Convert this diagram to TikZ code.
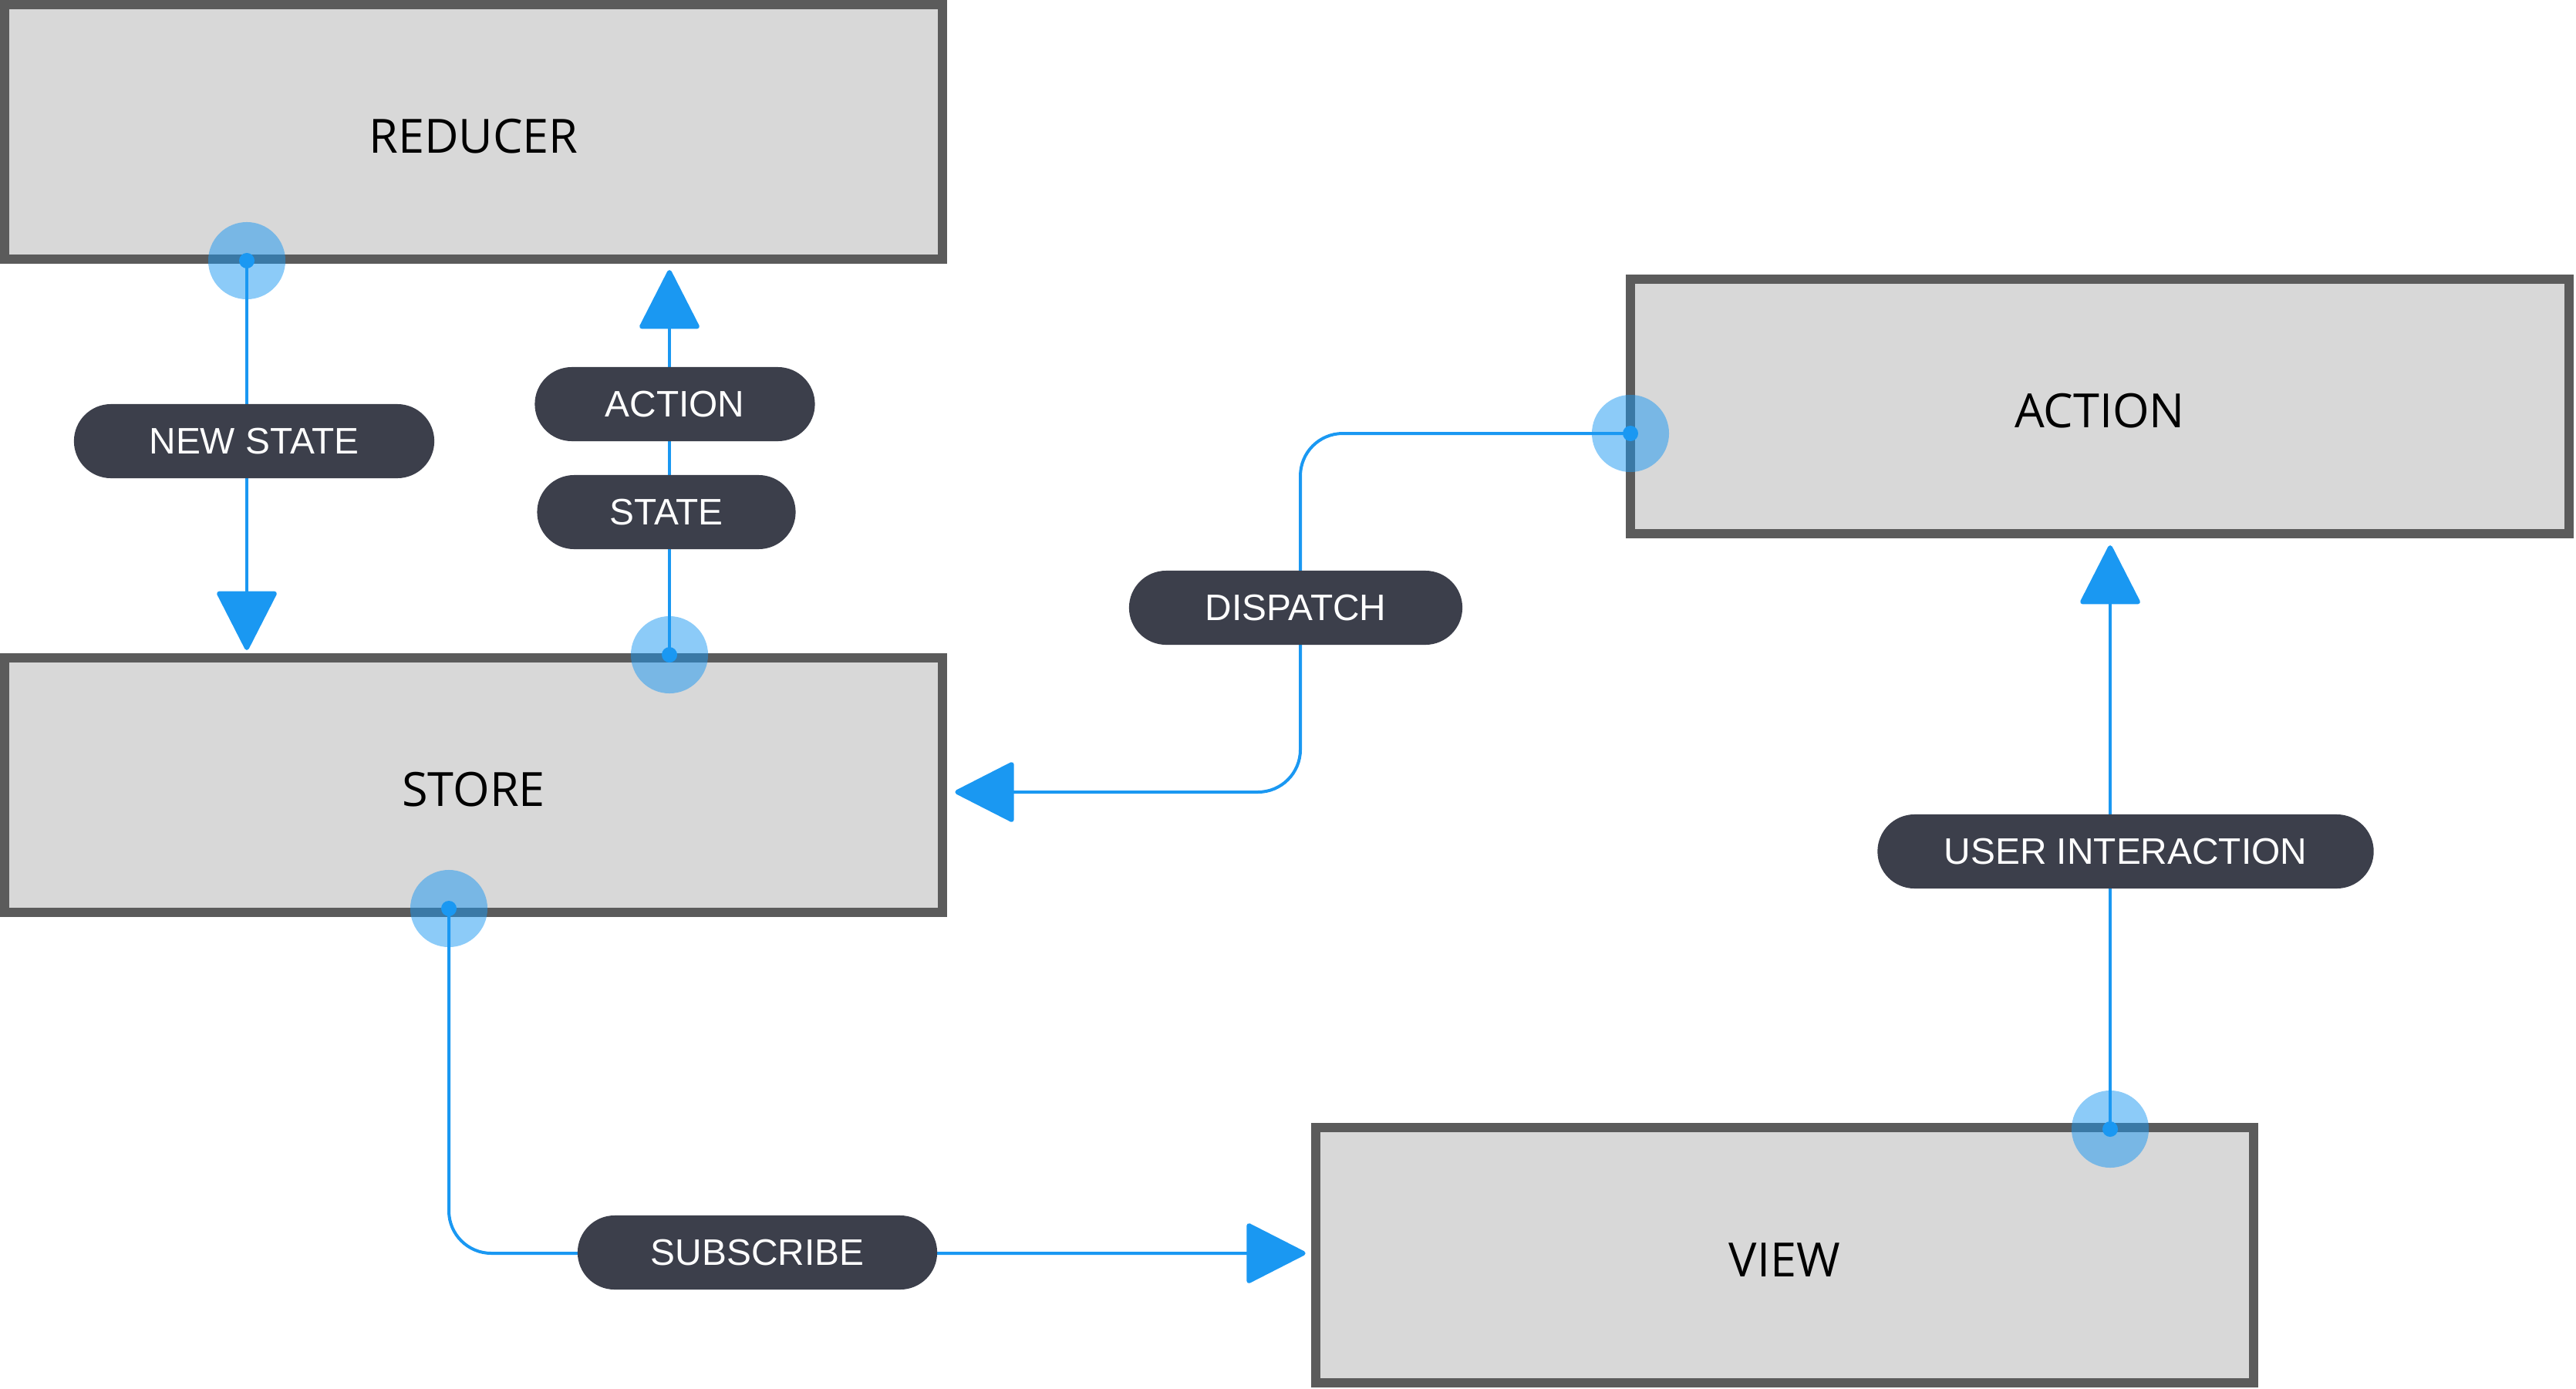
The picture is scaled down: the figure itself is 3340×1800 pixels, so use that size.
\documentclass[tikz,border=0pt]{standalone}
\usepackage{fontspec}
\setmainfont{Liberation Sans}
\newfontfamily\boxfont{Open Sans}
\usetikzlibrary{arrows.meta}
\definecolor{flowblue}{RGB}{26,152,242}
\definecolor{pilldark}{RGB}{60,63,75}
\definecolor{boxfill}{RGB}{216,216,216}
\definecolor{boxline}{RGB}{91,91,91}
\begin{document}
\begin{tikzpicture}[x=0.01cm,y=-0.01cm,
  bigbox/.style={draw=boxline, fill=boxfill, line width=0.12cm, minimum width=12.16cm, minimum height=3.30cm, inner sep=0pt},
  boxlabel/.style={font=\boxfont\fontsize{17.4pt}{20pt}\selectfont, text=black, inner sep=0pt},
  pill/.style={fill=pilldark, rounded corners=0.48cm, minimum height=0.96cm, inner sep=0pt, text=white, font=\fontsize{13.6pt}{16pt}\selectfont},
  conn/.style={draw=flowblue, line width=0.04cm, -{Triangle[length=0.80cm,width=0.80cm,round,line width=0.06cm]}},
  halo/.style={fill=flowblue, fill opacity=0.5},
  dotpt/.style={fill=flowblue}
]
\useasboundingbox (0,0) rectangle (3340,1800);

% boxes
\node[bigbox] (reducer) at (614,171) {};
\node[bigbox] (store) at (614,1018) {};
\node[bigbox] (action) at (2722.5,527) {};
\node[bigbox] (view) at (2314,1627.5) {};
\node[boxlabel] (reducerT) at ([yshift=-0.06cm]reducer.center) {REDUCER};
\node[boxlabel] (storeT) at ([yshift=-0.06cm]store.center) {STORE};
\node[boxlabel] (actionT) at ([yshift=-0.06cm]action.center) {ACTION};
\node[boxlabel] (viewT) at ([yshift=-0.06cm]view.center) {VIEW};

% connection points
\coordinate (h1) at (320,338);
\coordinate (h2) at (868,849);
\coordinate (h3) at (2114,562);
\coordinate (h4) at (582,1178);
\coordinate (h5) at (2736,1464);
\coordinate (d1) at (1686,562);
\coordinate (d2) at (1686,1027);
\coordinate (s1) at (582,1625);

% connectors
\draw[conn, shorten >=0.04cm] (h1) -- (h1 |- store.north);
\draw[conn, shorten >=0.08cm] (h2) -- (h2 |- reducer.south);
\draw[conn, shorten >=0.10cm, rounded corners=0.55cm] (h3) -- (d1) -- (d2) -- (d2 -| store.east);
\draw[conn, shorten >=0.07cm, rounded corners=0.55cm] (h4) -- (s1) -- (s1 -| view.west);
\draw[conn, shorten >=0.09cm] (h5) -- (h5 |- action.south);

% labels
\node[pill, minimum width=4.67cm] (newstate) at (329.5,572) {NEW STATE};
\node[pill, minimum width=3.63cm] (actpill) at (875,524) {ACTION};
\node[pill, minimum width=3.35cm] (statepill) at (864,664) {STATE};
\node[pill, minimum width=4.32cm] (dispatch) at (1680,788) {DISPATCH};
\node[pill, minimum width=6.43cm] (userint) at (2756,1104) {USER INTERACTION};
\node[pill, minimum width=4.66cm] (subscribe) at (982,1624) {SUBSCRIBE};

% halos
\foreach \p in {h1,h2,h3,h4,h5}{
  \fill[halo] (\p) circle (0.5cm);
  \fill[dotpt] (\p) circle (0.1cm);
}
\end{tikzpicture}
\end{document}
